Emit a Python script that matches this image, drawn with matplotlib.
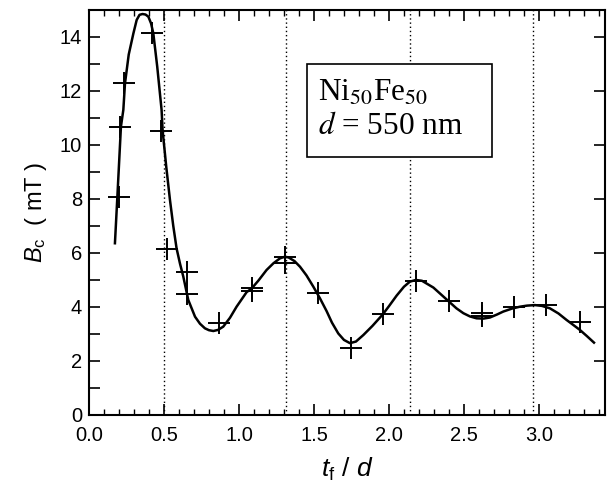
import numpy as np
import matplotlib.pyplot as plt
from matplotlib.patches import Rectangle
from matplotlib.ticker import MultipleLocator

plt.rcParams['mathtext.fontset'] = 'custom'
plt.rcParams['mathtext.it'] = 'Liberation Sans:italic'
plt.rcParams['mathtext.rm'] = 'Liberation Sans'

# measured points (t_f/d, B_c in mT)
x_pts = [0.20, 0.21, 0.235, 0.418, 0.48, 0.518, 0.651, 0.651, 0.869,
         1.084, 1.084, 1.307, 1.307, 1.524, 1.744, 1.958, 2.18, 2.40,
         2.618, 2.618, 2.835, 3.05, 3.273]
y_pts = [8.06, 10.67, 12.3, 14.13, 10.53, 6.15, 5.31, 4.47, 3.40,
         4.58, 4.72, 5.86, 5.62, 4.53, 2.47, 3.73, 4.96, 4.23,
         3.77, 3.67, 4.01, 4.07, 3.46]

# fit curve
x_fit = [0.173, 0.189, 0.213, 0.229, 0.24, 0.265, 0.296, 0.318, 0.337, 0.357,
         0.377, 0.396, 0.414, 0.429, 0.455, 0.484, 0.491, 0.515, 0.54, 0.562,
         0.584, 0.607, 0.629, 0.662, 0.707, 0.74, 0.773, 0.80, 0.829, 0.86,
         0.895, 0.94, 0.984, 1.051, 1.084, 1.13, 1.184, 1.23, 1.273, 1.30,
         1.329, 1.37, 1.407, 1.45, 1.496, 1.54, 1.584, 1.62, 1.662, 1.70,
         1.74, 1.78, 1.829, 1.89, 1.958, 2.0, 2.051, 2.10, 2.14, 2.18,
         2.22, 2.296, 2.35, 2.40, 2.45, 2.496, 2.54, 2.584, 2.63, 2.673,
         2.72, 2.762, 2.82, 2.873, 2.92, 2.973, 3.02, 3.073, 3.13, 3.184,
         3.23, 3.273, 3.32, 3.367]
y_fit = [6.36, 8.06, 10.68, 11.3, 12.28, 13.35, 14.13, 14.63, 14.82, 14.85,
         14.83, 14.75, 14.5, 14.13, 12.9, 11.3, 10.53, 9.2, 7.96, 7.0,
         6.17, 5.6, 5.12, 4.26, 3.64, 3.38, 3.21, 3.14, 3.11, 3.15,
         3.27, 3.6, 4.01, 4.55, 4.68, 4.98, 5.37, 5.62, 5.8, 5.85,
         5.84, 5.7, 5.49, 5.17, 4.75, 4.32, 3.85, 3.42, 3.02, 2.78,
         2.66, 2.72, 2.96, 3.3, 3.72, 4.03, 4.42, 4.75, 4.94, 5.0,
         4.97, 4.72, 4.45, 4.2, 3.95, 3.77, 3.65, 3.58, 3.57, 3.61,
         3.72, 3.83, 3.94, 4.01, 4.05, 4.07, 4.04, 3.95, 3.76, 3.52,
         3.33, 3.15, 2.92, 2.68]

# dotted guide lines
x_guides = [0.50, 1.315, 2.14, 2.96]

fig = plt.figure(figsize=(6.07, 4.98), dpi=100)
ax = fig.add_axes([0.1466, 0.1667, 0.85, 0.8133])

for xg in x_guides:
    ax.axvline(xg, color='black', lw=1.0, ls=(0, (1, 2)))

ax.plot(x_fit, y_fit, color='black', lw=1.8, solid_joinstyle='round')
ax.plot(x_pts, y_pts, ls='none', marker='+', color='black', markersize=16, markeredgewidth=1.4)

ax.set_xlim(0, 3.44)
ax.set_ylim(0, 15)

ax.xaxis.set_major_locator(MultipleLocator(0.5))
ax.xaxis.set_minor_locator(MultipleLocator(0.1))
ax.yaxis.set_major_locator(MultipleLocator(2))
ax.yaxis.set_minor_locator(MultipleLocator(1))
ax.tick_params(axis='both', which='major', direction='in', length=8, width=1.2,
               top=True, right=True, labelsize=14.5)
ax.tick_params(axis='x', which='major', pad=8)
ax.tick_params(axis='y', which='major', pad=5)
ax.tick_params(axis='x', which='minor', direction='in', length=4, width=1.0, top=True)
ax.tick_params(axis='y', which='minor', direction='in', length=8, width=1.2, right=False)
ax.set_xticks(np.arange(0, 3.5, 0.5))
ax.set_xticklabels([f'{v:.1f}' for v in np.arange(0, 3.5, 0.5)])
for s in ax.spines.values():
    s.set_linewidth(1.5)
for lab in ax.get_xticklabels() + ax.get_yticklabels():
    lab.set_family('Liberation Sans')

ax.set_xlabel(r'$t_{\rm f}$ / $d$', fontsize=19, family='Liberation Sans', labelpad=8)
ax.set_ylabel(r'$B_{\rm c}$  ( mT )', fontsize=17, family='Liberation Sans', labelpad=8)

# label box
ax.add_patch(Rectangle((1.453, 9.56), 1.234, 3.44, fc='white', ec='black', lw=1.2, zorder=4))
ax.text(1.525, 11.3, r'Ni$_{\rm 50}$Fe$_{\rm 50}$' + '\n' + r'$d$ = 550 nm', fontsize=22.5,
        family='Liberation Serif', math_fontfamily='stix',
        va='center', ha='left', linespacing=1.2, zorder=5)

fig.savefig('out.png', dpi=100)
